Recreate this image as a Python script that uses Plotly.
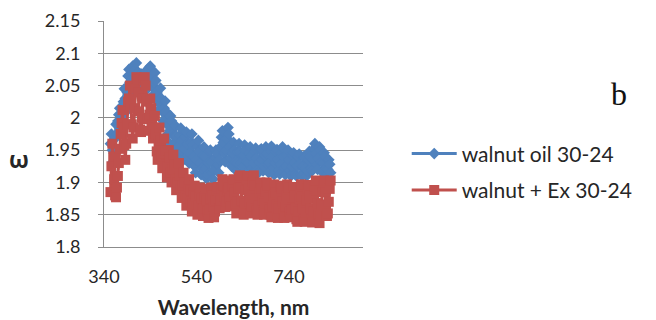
import plotly.graph_objects as go

# Wavelength grid (nm) shared by both series: 354, 356, ..., 830
wavelength = list(range(354, 832, 2))

# omega for walnut oil 30-24
walnut_oil = [
    1.960, 1.975, 1.950, 1.932, 1.945, 1.968, 1.990, 1.975, 1.995, 2.005,
    2.015, 1.995, 1.980, 2.000, 2.025, 2.045, 2.030, 2.010, 2.040, 2.065,
    2.075, 2.055, 2.040, 2.060, 2.080, 2.070, 2.055, 2.075, 2.085, 2.070,
    2.052, 2.045, 2.060, 2.068, 2.055, 2.042, 2.050, 2.066, 2.072, 2.058,
    2.045, 2.062, 2.078, 2.080, 2.065, 2.050, 2.035, 2.055, 2.070, 2.058,
    2.040, 2.025, 2.012, 2.030, 2.046, 2.030, 2.010, 1.995, 2.015, 2.026,
    2.010, 1.990, 1.975, 1.962, 1.980, 2.003, 1.995, 1.975, 1.958, 1.972,
    1.988, 1.972, 1.955, 1.940, 1.955, 1.973, 1.984, 1.965, 1.948, 1.935,
    1.952, 1.970, 1.978, 1.960, 1.942, 1.930, 1.945, 1.962, 1.975, 1.958,
    1.940, 1.925, 1.915, 1.935, 1.955, 1.965, 1.948, 1.930, 1.912, 1.922,
    1.942, 1.955, 1.940, 1.922, 1.906, 1.912, 1.930, 1.948, 1.950, 1.932,
    1.915, 1.905, 1.920, 1.938, 1.950, 1.945, 1.928, 1.915, 1.935, 1.955,
    1.970, 1.980, 1.962, 1.945, 1.932, 1.950, 1.968, 1.985, 1.975, 1.955,
    1.938, 1.925, 1.945, 1.962, 1.950, 1.932, 1.918, 1.930, 1.948, 1.960,
    1.948, 1.930, 1.916, 1.925, 1.942, 1.958, 1.950, 1.932, 1.917, 1.930,
    1.945, 1.955, 1.940, 1.922, 1.915, 1.930, 1.948, 1.953, 1.938, 1.920,
    1.915, 1.932, 1.950, 1.952, 1.935, 1.918, 1.925, 1.942, 1.955, 1.945,
    1.928, 1.915, 1.930, 1.948, 1.956, 1.940, 1.922, 1.912, 1.930, 1.948,
    1.951, 1.935, 1.918, 1.913, 1.928, 1.946, 1.955, 1.940, 1.922, 1.912,
    1.925, 1.942, 1.950, 1.935, 1.918, 1.910, 1.925, 1.942, 1.946, 1.930,
    1.913, 1.910, 1.925, 1.940, 1.944, 1.928, 1.912, 1.910, 1.925, 1.940,
    1.938, 1.922, 1.910, 1.918, 1.935, 1.948, 1.940, 1.922, 1.918, 1.935,
    1.952, 1.960, 1.945, 1.928, 1.920, 1.938, 1.955, 1.950, 1.932, 1.916,
    1.930, 1.946, 1.940, 1.922, 1.912, 1.920, 1.935, 1.928, 1.915,
]

# omega for walnut + Ex 30-24
walnut_ex = [
    1.885, 1.925, 1.960, 1.940, 1.905, 1.880, 1.877, 1.892, 1.910, 1.930,
    1.952, 1.975, 1.992, 2.012, 1.985, 1.958, 1.935, 1.960, 1.990, 2.025,
    2.030, 2.050, 2.020, 1.990, 1.968, 1.985, 2.015, 2.045, 2.063, 2.060,
    2.040, 2.010, 1.982, 1.978, 2.000, 2.030, 2.058, 2.063, 2.050, 2.025,
    1.998, 1.980, 2.005, 2.030, 2.015, 1.990, 1.968, 1.985, 2.003, 1.975,
    1.948, 1.935, 1.960, 1.985, 1.965, 1.940, 1.922, 1.945, 1.968, 1.950,
    1.928, 1.908, 1.925, 1.950, 1.938, 1.915, 1.900, 1.920, 1.943, 1.928,
    1.905, 1.888, 1.900, 1.922, 1.930, 1.910, 1.890, 1.876, 1.895, 1.915,
    1.900, 1.880, 1.864, 1.875, 1.893, 1.905, 1.888, 1.870, 1.855, 1.868,
    1.885, 1.895, 1.878, 1.862, 1.850, 1.865, 1.882, 1.892, 1.875, 1.858,
    1.848, 1.860, 1.878, 1.890, 1.872, 1.855, 1.845, 1.858, 1.875, 1.892,
    1.880, 1.862, 1.846, 1.855, 1.872, 1.888, 1.893, 1.875, 1.860, 1.872,
    1.890, 1.905, 1.895, 1.878, 1.862, 1.870, 1.888, 1.903, 1.892, 1.875,
    1.863, 1.878, 1.895, 1.905, 1.885, 1.866, 1.852, 1.870, 1.890, 1.908,
    1.911, 1.892, 1.872, 1.855, 1.850, 1.868, 1.888, 1.905, 1.910, 1.890,
    1.870, 1.852, 1.862, 1.882, 1.900, 1.911, 1.895, 1.875, 1.856, 1.850,
    1.865, 1.885, 1.900, 1.890, 1.872, 1.853, 1.850, 1.868, 1.886, 1.900,
    1.895, 1.876, 1.858, 1.850, 1.846, 1.862, 1.880, 1.897, 1.885, 1.866,
    1.850, 1.845, 1.860, 1.878, 1.895, 1.890, 1.870, 1.852, 1.845, 1.862,
    1.880, 1.897, 1.892, 1.873, 1.855, 1.846, 1.858, 1.876, 1.893, 1.880,
    1.860, 1.843, 1.839, 1.855, 1.873, 1.890, 1.897, 1.878, 1.860, 1.842,
    1.839, 1.853, 1.872, 1.890, 1.896, 1.880, 1.860, 1.843, 1.838, 1.855,
    1.875, 1.893, 1.903, 1.888, 1.868, 1.850, 1.837, 1.848, 1.866, 1.885,
    1.900, 1.903, 1.885, 1.865, 1.848, 1.852, 1.870, 1.890, 1.903,
]

x_ticks = [340, 540, 740]
y_ticks = [1.8, 1.85, 1.9, 1.95, 2.0, 2.05, 2.1, 2.15]
y_tick_labels = ["1.8", "1.85", "1.9", "1.95", "2", "2.05", "2.1", "2.15"]

BLUE = "#4F81BD"
RED = "#C0504D"
GRID = "#8C8C8C"
TEXT = "#262626"
FONT = "Lato"

fig = go.Figure()
fig.add_trace(go.Scatter(
    x=wavelength, y=walnut_oil, name="walnut oil 30-24",
    mode="lines+markers", legendgroup="oil",
    line=dict(color=BLUE, width=3),
    marker=dict(symbol="diamond", size=9, color=BLUE),
))
fig.add_trace(go.Scatter(
    x=wavelength, y=walnut_ex, name="walnut + Ex 30-24",
    mode="lines+markers", legendgroup="ex",
    line=dict(color=RED, width=3),
    marker=dict(symbol="square", size=10, color=RED),
))

fig.update_layout(
    width=656, height=320,
    margin=dict(l=103.5, r=292.7, t=20.7, b=73.3),
    paper_bgcolor="white", plot_bgcolor="white",
    font=dict(family=FONT, size=18, color=TEXT),
    legend=dict(
        xref="container", yref="container",
        x=0.62, y=0.583, xanchor="left", yanchor="top",
        font=dict(family=FONT, size=21, color=TEXT),
        tracegroupgap=6, traceorder="grouped", itemwidth=45,
        bgcolor="rgba(0,0,0,0)",
    ),
    xaxis=dict(
        range=[340, 900], tickvals=x_ticks, automargin=False,
        showgrid=False, zeroline=False,
        showline=True, linecolor=GRID, linewidth=1,
        ticks="", ticklabelstandoff=13,
        tickfont=dict(family=FONT, size=18, color=TEXT),
        title=dict(text="<b>Wavelength, nm</b>", standoff=14,
                   font=dict(family=FONT, size=21, color=TEXT)),
    ),
    yaxis=dict(
        range=[1.8, 2.15], tickvals=y_ticks, ticktext=y_tick_labels,
        automargin=False,
        showgrid=True, gridcolor=GRID, gridwidth=1, zeroline=False,
        showline=True, linecolor=GRID, linewidth=1,
        ticks="outside", ticklen=5, tickcolor=GRID,
        ticklabelstandoff=14,
        tickfont=dict(family=FONT, size=18, color=TEXT),
    ),
    annotations=[
        dict(text="<b>ω</b>", xref="paper", yref="paper",
             x=-0.33, y=0.388, xanchor="center", yanchor="middle",
             showarrow=False,
             font=dict(family="Open Sans", size=23, color=TEXT)),
        dict(text="b", xref="paper", yref="paper",
             x=1.988, y=0.676, xanchor="center", yanchor="middle",
             showarrow=False,
             font=dict(family="Liberation Serif", size=32, color="#111111")),
    ],
)

fig.write_html("out.html")
